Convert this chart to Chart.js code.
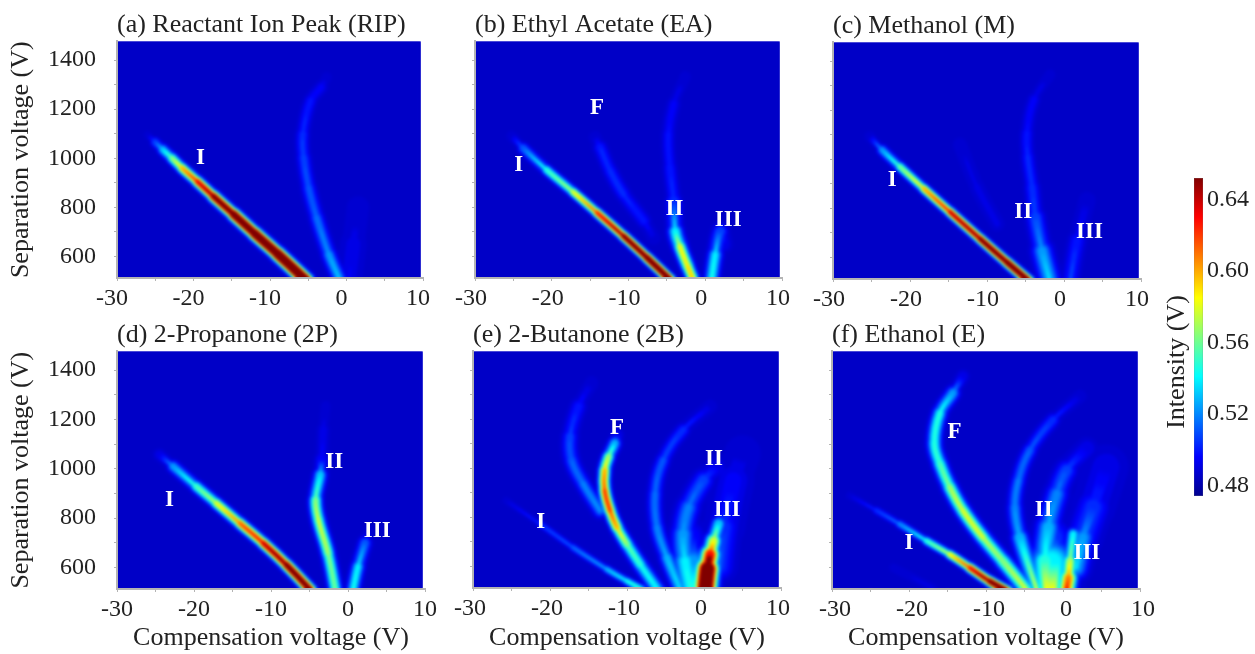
<!DOCTYPE html>
<html>
<head>
<meta charset="utf-8">
<title>FAIMS dispersion plots</title>
<script src="https://cdn.jsdelivr.net/npm/chart.js@4"></script>
<style>
  html, body { margin: 0; padding: 0; background: #fff; overflow: hidden; }
  body { width: 1255px; height: 654px; position: relative; }
  canvas { position: absolute; }
</style>
</head>
<body>
<script>
// axis ticks
const xTicks = [-30, -25, -20, -15, -10, -5, 0, 5, 10];
const xLabelled = [-30, -20, -10, 0, 10];
const yTicks = [600, 700, 800, 900, 1000, 1100, 1200, 1300, 1400];
const yLabelled = [600, 800, 1000, 1200, 1400];
const barTicks = [0.48, 0.52, 0.56, 0.60, 0.64];

// colour bar
const barRange = [0.474, 0.652];
const stopValues = [0.474, 0.496, 0.541, 0.585, 0.63, 0.652];
const stopColors = [[0,0,143], [0,0,255], [0,255,255], [255,255,0], [255,0,0], [128,0,0]];
const baseline = 0.485;

// ridges, each row: CV (V), SV (V), peak intensity (V), peak sigma (V of CV)
const aI = [[-26,1095,.488,.3],[-25,1065,.51,.33],[-24,1035,.535,.4],[-22.8,1000,.565,.42],[-21.5,960,.60,.4],[-19.5,905,.635,.4],[-17.4,845,.66,.42],[-14.75,771,.70,.45],[-12,693,.73,.47],[-9,610,.75,.48],[-5.2,500,.78,.5]];
const aII = [[-2.6,1330,.488,.45],[-3.3,1290,.496,.5],[-4.7,1234,.50,.5],[-5.7,1098,.506,.5],[-5.6,1003,.51,.52],[-4.95,880,.513,.55],[-3.9,758,.516,.55],[-2.3,608,.525,.55],[-.8,500,.535,.55]];
const aIII = [[1.5,800,.488,1.2],[.9,650,.493,1.1],[.3,500,.496,.9]];

const bI = [[-25.2,1090,.49,.33],[-23.7,1040,.515,.42],[-20.65,952,.55,.4],[-17.2,862,.58,.37],[-14.1,778,.625,.36],[-10.65,683,.665,.36],[-7.6,595,.69,.36],[-4.4,500,.71,.38]];
const bF = [[-14.35,1085,.49,.45],[-13.7,1044,.503,.5],[-12.4,949,.507,.55],[-10.65,853,.505,.55],[-8,744,.50,.55],[-6.7,675,.49,.5]];
const bII = [[-2.6,1332,.488,.5],[-4.1,1222,.496,.55],[-4.8,1099,.50,.5],[-4.6,962,.502,.5],[-4.1,825,.505,.55],[-3.9,702,.54,.6],[-3.3,640,.585,.52],[-2.3,560,.595,.47],[-1.5,500,.60,.45]];
const bIII = [[2.4,650,.495,.65],[1.96,702,.51,.6],[1.3,607,.54,.55],[.8,500,.55,.55]];

const cI = [[-25.2,1092,.49,.33],[-23.6,1037,.525,.4],[-21.3,969,.56,.37],[-18.2,880,.60,.36],[-14.8,785,.64,.36],[-10.9,676,.665,.36],[-7.4,580,.69,.36],[-4.4,500,.70,.38]];
const cII = [[-1.8,1345,.488,.5],[-3.9,1243,.496,.5],[-4.8,1106,.50,.5],[-4.7,1010,.505,.5],[-4.15,887,.505,.55],[-3.7,764,.51,.6],[-2.85,627,.525,.75],[-1.8,500,.54,.8]];
const cF = [[-13.5,1059,.49,.6],[-11.3,887,.493,.6],[-8.7,737,.492,.6]];
const cIII = [[3,832,.489,.7],[1.7,668,.50,.7],[.8,505,.512,.6]];

const dI = [[-24.5,1057,.492,.42],[-22.7,1009,.525,.45],[-19.7,928,.555,.45],[-17.1,860,.58,.43],[-14.05,779,.615,.42],[-11,698,.64,.42],[-8,610,.67,.42],[-4.8,505,.70,.42]];
const dII = [[-2.9,1255,.488,.5],[-3.2,1159,.493,.5],[-3.4,1037,.497,.5],[-3.6,975,.535,.5],[-4.2,874,.565,.5],[-3.85,793,.585,.5],[-2.6,657,.57,.5],[-1.6,500,.56,.5]];
const dIII = [[2.6,740,.488,.5],[2.2,698,.515,.5],[1.3,603,.54,.5],[.6,500,.55,.5]];

const eI = [[-25.7,868,.49,.3],[-21.3,773,.505,.26],[-17,677,.515,.28],[-12.6,588,.53,.3],[-10,540,.545,.32],[-7.6,500,.555,.32]];
const eF = [[-11.3,1135,.495,.45],[-11.6,1101,.53,.48],[-12.4,1047,.57,.47],[-12.9,992,.60,.45],[-12.9,910,.625,.45],[-12.2,827,.625,.45],[-11.3,759,.60,.45],[-10,690,.565,.5],[-8.3,608,.55,.52],[-5.9,500,.54,.55]];
const eF2 = [[-14.6,1348,.489,.5],[-16.3,1252,.50,.6],[-17.4,1129,.51,.6],[-17.2,1033,.515,.6],[-15.7,937,.52,.55],[-13.5,827,.525,.55]];
const eII = [[.8,1252,.491,.5],[-2.7,1156,.505,.5],[-5.3,1033,.512,.55],[-6.35,896,.518,.55],[-6.1,759,.52,.55],[-4.8,636,.53,.55],[-3,500,.54,.6]];
const eII2 = [[1.67,1005,.495,.7],[-.07,951,.51,.75],[-2,841,.52,.8],[-2.7,732,.525,.85],[-2.45,622,.54,.9],[-1.7,500,.55,1]];
const eIII = [[2.1,790,.505,.5],[1.9,773,.535,.5],[1.24,704,.58,.55],[.8,649,.63,.65],[.45,590,.72,.75],[.15,500,.80,.85]];
const eIV = [[5,1060,.489,1.5],[3.8,950,.496,1.6],[2.6,760,.505,1.2],[2,600,.515,1]];
const eFoot = [[-2,720,.497,1.2],[-1.5,610,.525,1.3],[-1,500,.555,1.5]];

const fI = [[-27.7,891,.49,.3],[-24.2,830,.505,.28],[-21.2,775,.52,.3],[-17.7,707,.55,.32],[-14.7,652,.585,.34],[-12.1,598,.63,.36],[-9.5,543,.67,.37],[-7,500,.70,.37]];
const fI2 = [[-22,598,.489,.4],[-16.9,516,.493,.4]];
const fF = [[-13,1375,.492,.45],[-14.3,1307,.525,.52],[-16,1225,.55,.55],[-16.7,1103,.55,.55],[-16,1021,.555,.55],[-14.7,925,.57,.55],[-13,830,.585,.55],[-10.4,721,.58,.55],[-7.8,625,.565,.58],[-4.5,500,.585,.6]];
const fII = [[2.2,1294,.49,.5],[-1.3,1198,.505,.5],[-4.3,1075,.515,.55],[-5.8,952,.52,.55],[-6.25,843,.522,.55],[-5.6,721,.53,.6],[-3.3,500,.58,.65]];
const fII2 = [[3.1,1082,.493,.75],[.45,993,.51,.8],[-.8,898,.52,.8],[-1.9,762,.53,.85],[-2.35,625,.55,.95],[-2.1,500,.59,1.05]];
const fIII = [[1.33,734,.54,.45],[.9,625,.575,.5],[.7,557,.61,.6],[.4,500,.635,.75]];
const fIV = [[5.6,1007,.493,1.7],[3.9,843,.505,1.4],[2.6,721,.525,1],[1.75,598,.54,.8]];
const fFoot = [[-1.5,720,.505,1.3],[-1.5,620,.54,1.4],[-1.5,500,.59,1.9]];

// white peak labels: text, CV, SV
const aMarks = [['I',-19.1,1000]];
const bMarks = [['F',-14.1,1206],['I',-24.3,972],['II',-4,791],['III',3,747]];
const cMarks = [['I',-22.3,915],['II',-5.3,784],['III',3.3,705]];
const dMarks = [['I',-23.2,874],['II',-1.8,1026],['III',3.8,746]];
const eMarks = [['F',-11.3,1163],['I',-21.2,782],['II',1.3,1036],['III',3,830]];
const fMarks = [['F',-14.1,1150],['I',-20,700],['II',-2.5,832],['III',3.1,658]];

const FONT = '"Liberation Serif", "Times New Roman", serif';
const INK = '#222';
const AXIS = '#b4b4b4';

const panels = [
  { title: '(a) Reactant Ion Peak (RIP)', ridges: [aI, aII, aIII], marks: aMarks, box: [117,423,41,278], yLabels: true, xTitle: false, shift: -5 },
  { title: '(b) Ethyl Acetate (EA)', ridges: [bI, bF, bII, bIII], marks: bMarks, box: [475,782,41,278], yLabels: false, xTitle: false, shift: -4 },
  { title: '(c) Methanol (M)', ridges: [cI, cII, cF, cIII], marks: cMarks, box: [833,1141,42,279], yLabels: false, xTitle: false, shift: -4 },
  { title: '(d) 2-Propanone (2P)', ridges: [dI, dII, dIII], marks: dMarks, box: [117,425,351,589], yLabels: true, xTitle: true, shift: 0 },
  { title: '(e) 2-Butanone (2B)', ridges: [eI, eF, eF2, eII, eII2, eIII, eIV, eFoot], marks: eMarks, box: [473,781,351,588], yLabels: false, xTitle: true, shift: -3 },
  { title: '(f) Ethanol (E)', ridges: [fI, fI2, fF, fII, fII2, fIII, fIV, fFoot], marks: fMarks, box: [832,1140,351,589], yLabels: false, xTitle: true, shift: 3 },
];

function jet(v) {
  if (v <= stopValues[0]) return stopColors[0];
  for (let i = 1; i < stopValues.length; i++) {
    if (v <= stopValues[i]) {
      const t = (v - stopValues[i-1]) / (stopValues[i] - stopValues[i-1]);
      return stopColors[i-1].map((c, k) => Math.round(c + (stopColors[i][k] - c) * t));
    }
  }
  return stopColors[stopColors.length-1];
}
const rgba = (c, a) => `rgba(${c[0]},${c[1]},${c[2]},${a})`;

// contour levels the ridges get stroked at, low ones underneath
const levels = [];
for (let L = 0.487; L < 0.656; L += 0.004) levels.push(+L.toFixed(3));

function halfWidth(peak, sigma, level) {
  if (peak <= level) return 0;
  return sigma * Math.sqrt(2 * Math.log((peak - baseline) / (level - baseline)));
}

function segmentColor(c, level) {
  const rows = c.chart.data.datasets[c.datasetIndex].rows;
  const a = rows[c.p0DataIndex][2], b = rows[c.p1DataIndex][2];
  const col = jet(level);
  if (a <= level && b <= level) return rgba(col, 0);
  if (a > level && b > level) return rgba(col, 1);
  // level starts part way along this segment
  const t = (level - a) / (b - a);
  const g = c.chart.ctx.createLinearGradient(c.p0.x, c.p0.y, c.p1.x, c.p1.y);
  const on = rgba(col, 1), off = rgba(col, 0);
  const t0 = Math.max(0, t - 0.1), t1 = Math.min(1, t + 0.1);
  g.addColorStop(0, a > level ? on : off);
  g.addColorStop(t0, a > level ? on : off);
  g.addColorStop(t1, a > level ? off : on);
  g.addColorStop(1, a > level ? off : on);
  return g;
}

function segmentWidth(c, level) {
  const rows = c.chart.data.datasets[c.datasetIndex].rows;
  const r0 = rows[c.p0DataIndex], r1 = rows[c.p1DataIndex];
  const px = c.chart.scales.x.width / 40;
  const hw = (halfWidth(r0[2], r0[3], level) + halfWidth(r1[2], r1[3], level)) / 2;
  return Math.max(0.6, 2 * hw * px);
}

function ridgeDatasets(ridges) {
  const out = [];
  ridges.forEach(rows => {
    levels.forEach(level => {
      if (!rows.some(r => r[2] > level)) return;
      out.push({
        rows,
        data: rows.map(r => ({ x: r[0], y: r[1] })),
        order: -Math.round(level * 1000),
        borderColor: rgba(jet(level), 1),
        borderWidth: 1,
        borderCapStyle: 'round',
        pointRadius: 0,
        tension: 0.4,
        fill: false,
        segment: {
          borderColor: c => segmentColor(c, level),
          borderWidth: c => segmentWidth(c, level),
        },
      });
    });
  });
  return out;
}

const heatPlugin = {
  id: 'heat',
  beforeDatasetsDraw(chart) {
    const { ctx, chartArea: a, scales } = chart;
    ctx.save();
    ctx.fillStyle = rgba(jet(baseline), 1);
    ctx.fillRect(a.left, a.top, scales.x.getPixelForValue(9.7) - a.left, a.bottom - a.top);
    ctx.restore();
  },
  afterDatasetsDraw(chart) {
    // the source image is a soft bitmap
    const { ctx, chartArea: a, scales } = chart;
    ctx.save();
    ctx.beginPath();
    ctx.rect(a.left, a.top, scales.x.getPixelForValue(9.7) - a.left, a.bottom - a.top);
    ctx.clip();
    ctx.filter = 'blur(1.7px)';
    ctx.drawImage(chart.canvas, 0, 0);
    ctx.restore();
  },
  afterDraw(chart, args, opts) {
    const { ctx, scales } = chart;
    ctx.save();
    ctx.font = 'bold 23px ' + FONT;
    ctx.fillStyle = '#fff';
    ctx.textAlign = 'center';
    ctx.textBaseline = 'middle';
    opts.marks.forEach(m => ctx.fillText(m[0], scales.x.getPixelForValue(m[1]), scales.y.getPixelForValue(m[2])));
    ctx.restore();
  },
};

function addCanvas(left, top, w, h) {
  const cv = document.createElement('canvas');
  cv.width = w; cv.height = h;
  cv.style.left = left + 'px'; cv.style.top = top + 'px';
  cv.style.width = w + 'px'; cv.style.height = h + 'px';
  document.body.appendChild(cv);
  return cv;
}

const TOP = 32, RIGHT = 30;

panels.forEach(p => {
  const [left, right, top, bottom] = p.box;
  const L = p.yLabels ? left : 45;
  const B = p.xTitle ? 654 - bottom : 45;
  const cv = addCanvas(left - L, top - TOP, right - left + L + RIGHT, bottom - top + TOP + B);
  new Chart(cv.getContext('2d'), {
    type: 'line',
    data: { datasets: ridgeDatasets(p.ridges) },
    plugins: [heatPlugin],
    options: {
      responsive: false,
      animation: false,
      events: [],
      layout: { padding: { left: 0, right: RIGHT, top: 0, bottom: 0 } },
      plugins: {
        legend: { display: false },
        tooltip: { enabled: false },
        heat: { marks: p.marks },
        title: {
          display: true, text: p.title, align: 'start', fullSize: false, color: INK,
          font: { family: FONT, size: 26, lineHeight: 1.2, weight: 'normal' },
          padding: { top: 0, bottom: 0.8 },
        },
      },
      scales: {
        x: {
          type: 'linear', min: -30, max: 10,
          afterBuildTicks: s => { s.ticks = xTicks.map(v => ({ value: v })); },
          afterFit: s => { s.height = B; },
          grid: { display: true, drawOnChartArea: false, drawTicks: true, tickLength: 3, color: AXIS },
          border: { display: true, color: AXIS, width: 2, z: 2 },
          ticks: {
            autoSkip: false, maxRotation: 0, color: INK, padding: 3, labelOffset: p.shift,
            font: { family: FONT, size: 24 },
            callback: v => xLabelled.includes(v) ? String(v) : '',
          },
          title: {
            display: p.xTitle, text: 'Compensation voltage (V)', color: INK,
            font: { family: FONT, size: 26 }, padding: { top: 0, bottom: 0 },
          },
        },
        y: {
          type: 'linear', min: 512, max: 1476,
          afterBuildTicks: s => { s.ticks = yTicks.map(v => ({ value: v })); },
          afterFit: s => { s.width = L; },
          grid: { display: true, drawOnChartArea: false, drawTicks: true, tickLength: 3, color: AXIS },
          border: { display: true, color: AXIS, width: 2, z: 2 },
          ticks: {
            autoSkip: false, color: INK, padding: 18,
            font: { family: FONT, size: 24 },
            callback: v => (p.yLabels && yLabelled.includes(v)) ? String(v) : '',
          },
          title: {
            display: p.yLabels, text: 'Separation voltage (V)', color: INK,
            font: { family: FONT, size: 26 }, padding: { top: 6, bottom: 0 },
          },
        },
      },
    },
  });
});

// colour bar
const barLeft = 1194, barWidth = 9, barTop = 178, barBottom = 496, barPad = 34, barEdge = 24;
const barCanvas = addCanvas(barLeft - barPad, barTop - barEdge, 1255 - barLeft + barPad, barBottom - barTop + 2 * barEdge);
new Chart(barCanvas.getContext('2d'), {
  type: 'bar',
  data: {
    labels: ['Intensity'],
    datasets: [{
      data: [barRange],
      barPercentage: 1, categoryPercentage: 1,
      borderColor: '#666', borderWidth: 0.5, borderSkipped: false,
      backgroundColor: c => {
        const { ctx, chartArea } = c.chart;
        if (!chartArea) return '#00f';
        const g = ctx.createLinearGradient(0, chartArea.bottom, 0, chartArea.top);
        stopValues.forEach((v, i) => g.addColorStop((v - barRange[0]) / (barRange[1] - barRange[0]), rgba(stopColors[i], 1)));
        return g;
      },
    }],
  },
  plugins: [{
    id: 'barTitle',
    afterDraw(chart) {
      const { ctx } = chart;
      ctx.save();
      ctx.translate(1177 - (barLeft - barPad), 362 - (barTop - barEdge));
      ctx.rotate(-Math.PI / 2);
      ctx.font = '26px ' + FONT;
      ctx.fillStyle = INK;
      ctx.textAlign = 'center';
      ctx.textBaseline = 'middle';
      ctx.fillText('Intensity (V)', 0, 0);
      ctx.restore();
    },
  }],
  options: {
    responsive: false,
    animation: false,
    events: [],
    layout: { padding: { left: barPad, right: 0, top: barEdge, bottom: barEdge } },
    plugins: { legend: { display: false }, tooltip: { enabled: false } },
    scales: {
      x: { display: false },
      y: {
        type: 'linear', position: 'right', min: barRange[0], max: barRange[1],
        afterBuildTicks: s => { s.ticks = barTicks.map(v => ({ value: v })); },
        afterFit: s => { s.width = 1255 - barLeft - barWidth; },
        grid: { display: false, drawTicks: false, tickLength: 0 },
        border: { display: false },
        ticks: {
          autoSkip: false, color: INK, padding: 4,
          font: { family: FONT, size: 24 },
          callback: v => v.toFixed(2),
        },
      },
    },
  },
});
</script>
</body>
</html>
